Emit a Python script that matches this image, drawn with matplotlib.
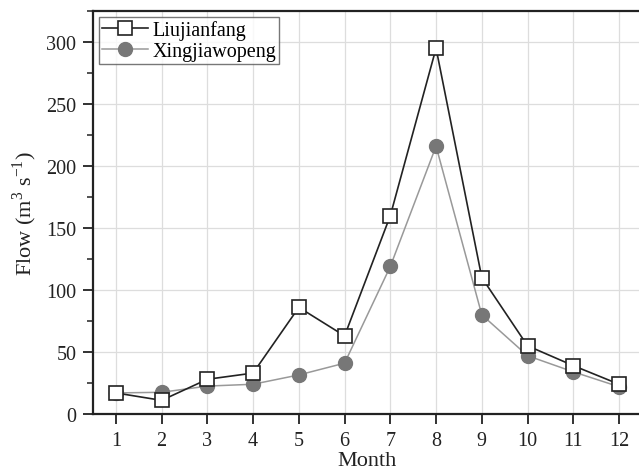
import numpy as np
import matplotlib
matplotlib.use('Agg')
import matplotlib.pyplot as plt
from matplotlib.ticker import MultipleLocator

plt.rcParams['font.family'] = ['Liberation Serif', 'DejaVu Serif']
plt.rcParams['mathtext.fontset'] = 'custom'
plt.rcParams['mathtext.rm'] = 'Liberation Serif'

######## DATA ########
months = [1, 2, 3, 4, 5, 6, 7, 8, 9, 10, 11, 12]
liujianfang = [17, 11, 28, 33, 86, 63, 160, 295, 110, 55, 39, 24]
xingjiawopeng = [17, 17.5, 22.5, 24, 31.5, 41, 119, 216, 80, 47, 34, 22]

fig = plt.figure(figsize=(6.39, 4.77), dpi=100)
ax = fig.add_axes([93/639, 1 - 415/477, (641.9 - 93)/639, (415 - 12)/477])

ax.plot(months, xingjiawopeng, '-', color='#999999', lw=1.1, marker='o', ms=10,
        mfc='#777777', mec='#777777', label='Xingjiawopeng', zorder=3)
ax.plot(months, liujianfang, '-', color='#222222', lw=1.2, marker='s', ms=9.5,
        mfc='white', mec='#222222', mew=1.2, label='Liujianfang', zorder=4)

ax.set_xlim(0.5, 12.5)
ax.set_ylim(0, 325)
ax.set_xticks(months)
ax.yaxis.set_major_locator(MultipleLocator(50))
ax.yaxis.set_minor_locator(MultipleLocator(25))
ax.grid(True, which='major', color='#dddddd', lw=0.9)
ax.set_axisbelow(True)

for s in ['left', 'bottom', 'top', 'right']:
    ax.spines[s].set_linewidth(1.6)
    ax.spines[s].set_color('#222222')

ax.tick_params(which='major', direction='out', length=7, width=1.3, labelsize=14.5,
               colors='#222222', pad=5)
ax.tick_params(which='minor', direction='out', length=4, width=1.1, colors='#222222')

ax.set_xlabel('Month', fontsize=16, color='#222222', labelpad=1)
ax.set_ylabel('Flow (m$^{3}$ s$^{-1}$)', fontsize=16, color='#222222', labelpad=5)

h, l = ax.get_legend_handles_labels()
leg = ax.legend(h[::-1], l[::-1], loc='upper left', fontsize=14.5, frameon=True,
                fancybox=False, edgecolor='#555555', borderpad=0.15, labelspacing=0.1,
                handlelength=2.3, handletextpad=0.2, borderaxespad=0.3)
leg.get_frame().set_linewidth(1.0)

fig.savefig('out.png', dpi=100)
